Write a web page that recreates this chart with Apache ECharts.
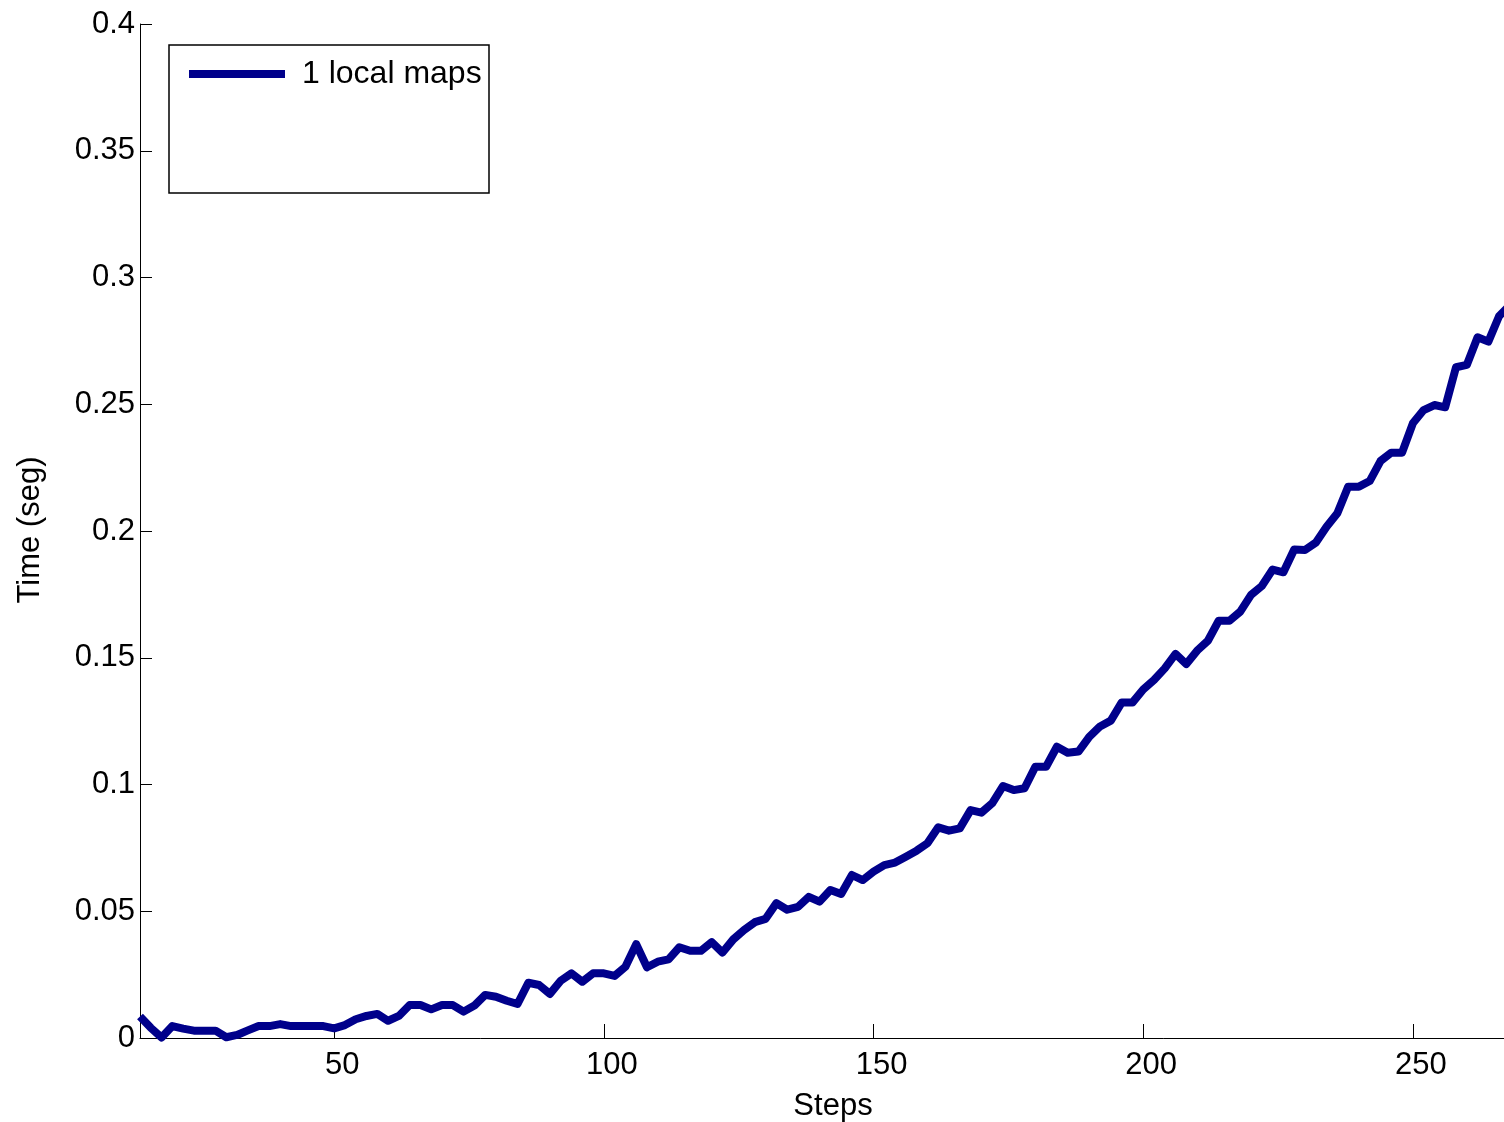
<!DOCTYPE html>
<html>
<head>
<meta charset="utf-8">
<script src="https://cdn.jsdelivr.net/npm/echarts@6/dist/echarts.min.js"></script>
<style>
  html, body { margin: 0; padding: 0; background: #ffffff; }
  #chart { width: 1504px; height: 1122px; }
</style>
</head>
<body>
<div id="chart"></div>
<script>
// Step index of each sample (one sample every two steps)
const steps = [
  14, 16, 18, 20, 22, 24, 26, 28, 30, 32, 34, 36, 38, 40, 42, 44,
  46, 48, 50, 52, 54, 56, 58, 60, 62, 64, 66, 68, 70, 72, 74, 76,
  78, 80, 82, 84, 86, 88, 90, 92, 94, 96, 98, 100, 102, 104, 106, 108,
  110, 112, 114, 116, 118, 120, 122, 124, 126, 128, 130, 132, 134, 136, 138, 140,
  142, 144, 146, 148, 150, 152, 154, 156, 158, 160, 162, 164, 166, 168, 170, 172,
  174, 176, 178, 180, 182, 184, 186, 188, 190, 192, 194, 196, 198, 200, 202, 204,
  206, 208, 210, 212, 214, 216, 218, 220, 222, 224, 226, 228, 230, 232, 234, 236,
  238, 240, 242, 244, 246, 248, 250, 252, 254, 256, 258, 260, 262, 264, 266, 268
];

// Time per step in seconds
const timeSeg = [
  0.0085, 0.0040, 0.0002, 0.0047, 0.0037, 0.0029, 0.0029, 0.0029, 0.0003, 0.0012, 0.0030, 0.0047, 0.0047, 0.0055, 0.0047, 0.0047,
  0.0047, 0.0047, 0.0038, 0.0051, 0.0074, 0.0087, 0.0095, 0.0068, 0.0087, 0.0130, 0.0130, 0.0113, 0.0130, 0.0130, 0.0104, 0.0128,
  0.0170, 0.0163, 0.0147, 0.0134, 0.0218, 0.0209, 0.0174, 0.0226, 0.0255, 0.0222, 0.0255, 0.0255, 0.0245, 0.0281, 0.0370, 0.0279,
  0.0301, 0.0310, 0.0358, 0.0344, 0.0344, 0.0378, 0.0337, 0.0389, 0.0426, 0.0457, 0.0470, 0.0532, 0.0506, 0.0517, 0.0557, 0.0538,
  0.0584, 0.0568, 0.0643, 0.0623, 0.0656, 0.0682, 0.0692, 0.0715, 0.0739, 0.0768, 0.0831, 0.0818, 0.0827, 0.0899, 0.0889, 0.0926,
  0.0994, 0.0978, 0.0985, 0.1070, 0.1070, 0.1149, 0.1125, 0.1130, 0.1188, 0.1229, 0.1252, 0.1323, 0.1323, 0.1375, 0.1412, 0.1458,
  0.1515, 0.1475, 0.1528, 0.1567, 0.1646, 0.1646, 0.1682, 0.1748, 0.1783, 0.1848, 0.1837, 0.1927, 0.1925, 0.1954, 0.2017, 0.2070,
  0.2175, 0.2175, 0.2197, 0.2276, 0.2309, 0.2309, 0.2425, 0.2477, 0.2497, 0.2488, 0.2646, 0.2655, 0.2764, 0.2747, 0.2848, 0.2890
];

const seriesName = '1 local maps';
const xAxisTitle = 'Steps';
const yAxisTitle = 'Time (seg)';
const xTickValues = [50, 100, 150, 200, 250];
const yTickValues = [0, 0.05, 0.1, 0.15, 0.2, 0.25, 0.3, 0.35, 0.4];

const FONT = '"Liberation Sans", Arial, Helvetica, sans-serif';
const LINE_COLOR = '#00008B';

const chart = echarts.init(document.getElementById('chart'), null, { renderer: 'canvas' });

chart.setOption({
  animation: false,
  backgroundColor: '#ffffff',
  grid: {
    left: 140, right: 0, top: 24, bottom: 84,
    containLabel: false,
    outerBoundsMode: 'none'
  },
  legend: {
    data: [seriesName],
    left: 189, top: 57, padding: 0,
    icon: 'rect', itemWidth: 96, itemHeight: 8,
    selectedMode: false,
    z: 10,
    textStyle: { fontFamily: FONT, fontSize: 32, color: '#000', lineHeight: 32, padding: [2, 0, 0, 12] }
  },
  xAxis: {
    type: 'value',
    min: 14, max: 266.9,
    axisLine: { show: true, onZero: false, lineStyle: { color: '#000', width: 1 } },
    axisTick: { show: true, inside: true, length: 14, customValues: xTickValues, lineStyle: { color: '#000', width: 1 } },
    axisLabel: { customValues: xTickValues, margin: 12, fontFamily: FONT, fontSize: 31, color: '#000', padding: [0, 0, 0, 16] },
    splitLine: { show: false }
  },
  yAxis: {
    type: 'value',
    min: 0, max: 0.4,
    axisLine: { show: true, onZero: false, lineStyle: { color: '#000', width: 1 } },
    axisTick: { show: true, inside: true, length: 12, customValues: yTickValues, lineStyle: { color: '#000', width: 1 } },
    axisLabel: { customValues: yTickValues, margin: 5, fontFamily: FONT, fontSize: 31, color: '#000' },
    splitLine: { show: false }
  },
  graphic: [
    {
      type: 'rect', z: 5,
      shape: { x: 169, y: 45, width: 320, height: 148 },
      style: { fill: '#ffffff', stroke: '#000000', lineWidth: 1.5 }
    },
    {
      type: 'text', z: 5,
      x: 833, y: 1106,
      style: { text: xAxisTitle, fontFamily: FONT, fontSize: 31, fill: '#000', align: 'center', verticalAlign: 'middle' }
    },
    {
      type: 'text', z: 5,
      x: 30, y: 530, rotation: Math.PI / 2,
      style: { text: yAxisTitle, fontFamily: FONT, fontSize: 31, fill: '#000', align: 'center', verticalAlign: 'middle' }
    }
  ],
  series: [
    {
      type: 'line',
      name: seriesName,
      data: steps.map((s, i) => [s, timeSeg[i]]),
      symbol: 'none',
      showSymbol: false,
      clip: false,
      z: 2,
      itemStyle: { color: LINE_COLOR },
      lineStyle: { color: LINE_COLOR, width: 8, join: 'round', cap: 'butt' }
    }
  ]
});
</script>
</body>
</html>
